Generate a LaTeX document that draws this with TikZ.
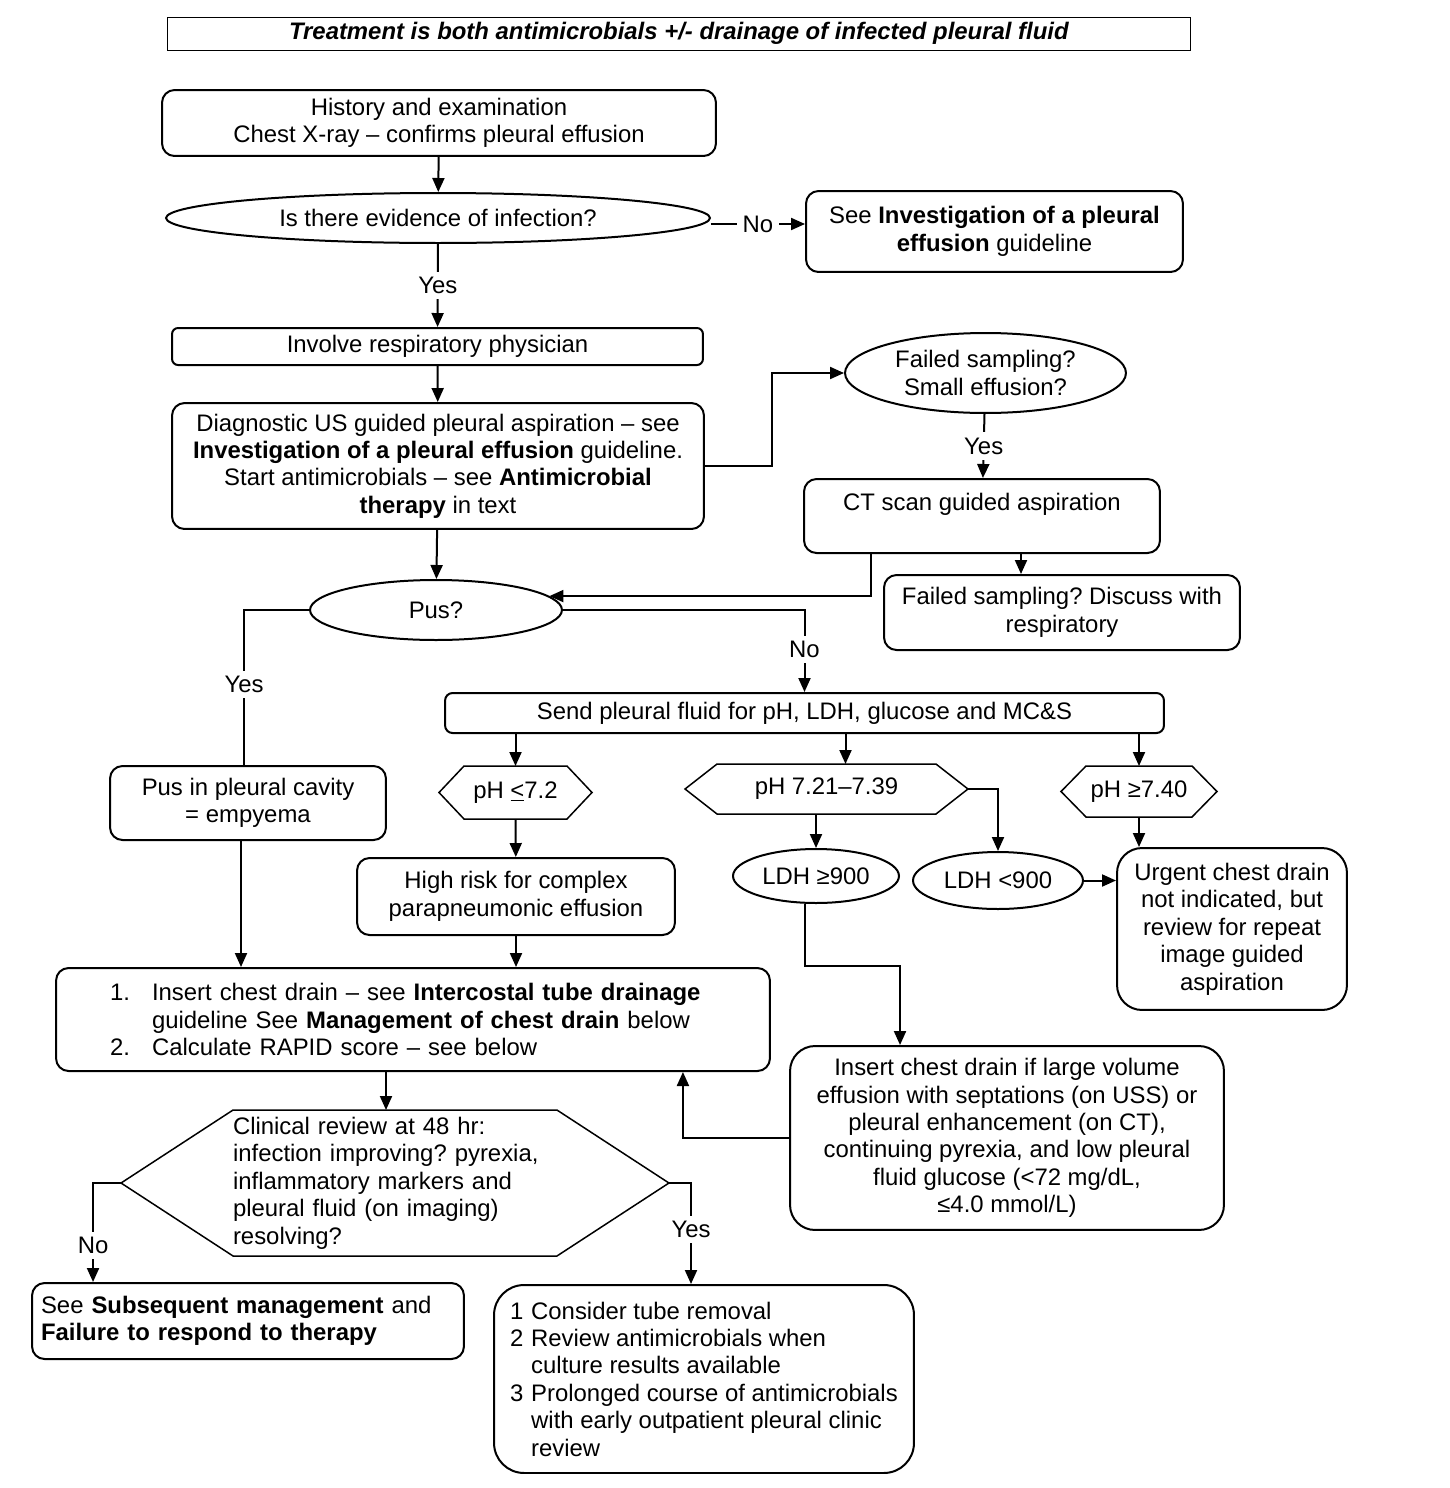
\documentclass[tikz,border=0pt]{standalone}
\usepackage{fontspec}
\setmainfont{Liberation Sans}
\usetikzlibrary{shapes.geometric, arrows.meta}
\frenchspacing

% outline of a pointed box round a plain node
\newcommand{\hexframe}[2]{%
  \draw[line width=0.03cm] (#1.west) -- ([xshift=#2]#1.north west) -- ([xshift=-#2]#1.north east)
    -- (#1.east) -- ([xshift=-#2]#1.south east) -- ([xshift=#2]#1.south west) -- cycle;}

\tikzset{
  box/.style={draw, rectangle, rounded corners=0.25cm, align=center, line width=0.04cm, inner sep=0pt},
  oval/.style={draw, ellipse, align=center, line width=0.04cm, inner sep=0pt},
  hexa/.style={rectangle, align=center, inner sep=0pt},
  lbl/.style={fill=white, inner sep=3pt},
}

\begin{document}
\begin{tikzpicture}[x=0.02cm, y=-0.02cm, font=\fontsize{13.6}{15.6}\selectfont,
    line width=0.04cm, >={Triangle[length=0.28cm, width=0.24cm]}]
    \useasboundingbox (0,0) rectangle (1450,1488);

    \node[draw, line width=0.02cm, minimum width=20.48cm, minimum height=0.66cm, inner sep=0pt] (title) at (679,33.5) {
        \textbf{\textit{Treatment is both antimicrobials +/- drainage of infected pleural fluid}}
    };

    \node[box, minimum width=11.08cm, minimum height=1.32cm] (hist) at (439,123) {
        History and examination\\
        Chest X-ray – confirms pleural effusion
    };
    \node[oval, minimum width=10.88cm, minimum height=1cm] (infect) at (438,218) {Is there evidence of infection?};
    \node[box, minimum width=7.54cm, minimum height=1.62cm] (seeinv) at (994.5,231.5) {
        See \textbf{Investigation of a pleural}\\
        \textbf{effusion} guideline
    };
    \node[box, rounded corners=0.12cm, minimum width=10.62cm, minimum height=0.74cm] (involve) at (437.5,346.5) {Involve respiratory physician};
    \node[box, minimum width=10.64cm, minimum height=2.52cm] (diag) at (438,466) {
        Diagnostic US guided pleural aspiration – see\\
        \textbf{Investigation of a pleural effusion} guideline.\\
        Start antimicrobials – see \textbf{Antimicrobial}\\
        \textbf{therapy} in text
    };

    \node[oval, minimum width=5.62cm, minimum height=1.6cm] (failed) at (985.5,373) {
        Failed sampling?\\
        Small effusion?
    };
    \node[box, minimum width=7.12cm, minimum height=1.48cm] (ctscan) at (982,516) {
        CT scan guided aspiration\\
        \mbox{}
    };
    \node[box, minimum width=7.12cm, minimum height=1.5cm] (discuss) at (1062,612.5) {
        Failed sampling? Discuss with\\
        respiratory
    };

    \node[oval, minimum width=5.04cm, minimum height=1.2cm] (pus) at (436,610) {Pus?};
    \node[box, minimum width=5.52cm, minimum height=1.48cm] (empyema) at (248,803) {
        Pus in pleural cavity\\
        = empyema
    };
    \node[box, rounded corners=0.15cm, minimum width=14.38cm, minimum height=0.8cm] (send) at (804.5,713) {Send pleural fluid for pH, LDH, glucose and MC\&S};

    \node[hexa, minimum width=3.02cm, minimum height=1.02cm] (phlow) at (515.5,792.5) {pH \underline{<}7.2};
    \node[hexa, minimum width=5.62cm, minimum height=0.96cm] (phmid) at (826.5,789) {pH 7.21–7.39};
    \node[hexa, minimum width=3.08cm, minimum height=0.98cm] (phhigh) at (1139,791.5) {pH ≥7.40};
    \hexframe{phlow}{0.5cm}
    \hexframe{phmid}{0.64cm}
    \hexframe{phhigh}{0.5cm}

    \node[box, minimum width=6.36cm, minimum height=1.54cm] (highrisk) at (516,896.5) {
        High risk for complex\\
        parapneumonic effusion
    };
    \node[oval, minimum width=3.32cm, minimum height=1.08cm] (ldhhi) at (816,876) {LDH ≥900};
    \node[oval, minimum width=3.4cm, minimum height=1.14cm] (ldhlo) at (998,880.5) {LDH <900};
    \node[box, rounded corners=0.5cm, minimum width=4.6cm, minimum height=3.24cm] (urgent) at (1232,929) {
        Urgent chest drain\\
        not indicated, but\\
        review for repeat\\
        image guided\\
        aspiration
    };

    \node[box, minimum width=14.28cm, minimum height=2.06cm, text width=12.12cm, align=left] (insert) at (413,1019.5) {
        \makebox[0.84cm][l]{1.}Insert chest drain – see \textbf{Intercostal tube drainage}\\
        \hspace*{0.84cm}guideline See \textbf{Management of chest drain} below\\
        \makebox[0.84cm][l]{2.}Calculate RAPID score – see below
    };
    \node[box, rounded corners=0.5cm, minimum width=8.68cm, minimum height=3.68cm] (insertif) at (1007,1138) {
        Insert chest drain if large volume\\
        effusion with septations (on USS) or\\
        pleural enhancement (on CT),\\
        continuing pyrexia, and low pleural\\
        fluid glucose (<72 mg/dL,\\
        ≤4.0 mmol/L)
    };

    \node[hexa, minimum width=10.92cm, minimum height=2.88cm, text width=6.48cm, align=left] (clin) at (395,1183) {
        Clinical review at 48 hr:\\
        infection improving? pyrexia,\\
        inflammatory markers and\\
        pleural fluid (on imaging)\\
        resolving?
    };
    \hexframe{clin}{2.24cm}

    \node[box, minimum width=8.64cm, minimum height=1.52cm, text width=8.28cm, align=left] (subseq) at (248,1321) {
        See \textbf{Subsequent management} and\\
        \textbf{Failure to respond to therapy}
    };
    \node[box, rounded corners=0.6cm, minimum width=8.4cm, minimum height=3.76cm, align=left] (consider) at (704,1379) {
        \makebox[0.42cm][l]{1}Consider tube removal\\
        \makebox[0.42cm][l]{2}Review antimicrobials when\\
        \hspace*{0.42cm}culture results available\\
        \makebox[0.42cm][l]{3}Prolonged course of antimicrobials\\
        \hspace*{0.42cm}with early outpatient pleural clinic\\
        \hspace*{0.42cm}review
    };

    % top part
    \draw[->] (hist) -- (infect);
    \draw[->] ([yshift=-0.12cm]infect.east) -- node[lbl]{No} ([yshift=-0.12cm]infect.east -| seeinv.west);
    \draw[->] (infect) -- node[lbl]{Yes} (involve);
    \draw[->] (involve) -- (diag);
    \draw[->] (diag.east) -- ++(67,0) |- (failed.west);
    \draw[->] (failed) -- node[lbl]{Yes} (ctscan);
    \draw[->] ([xshift=0.78cm]ctscan.south) -- ([xshift=0.78cm]ctscan.south |- discuss.north);
    \draw[->] ([xshift=-2.22cm]ctscan.south) |- (pus.7);
    \draw[->] (diag) -- (pus);

    % pus or not
    \draw[->] (pus.east) -| node[lbl, pos=0.74]{No} (send.north);
    \draw (pus.west) -| node[lbl, pos=0.74]{Yes} ([xshift=-0.08cm]empyema.north);
    \draw[->] ([xshift=-0.14cm]empyema.south) -- ([xshift=-0.14cm]empyema.south |- insert.north);
    \draw[->] (send.south -| phlow.north) -- (phlow.north);
    \draw[->] ([xshift=0.38cm]phmid.north |- send.south) -- ([xshift=0.38cm]phmid.north);
    \draw[->] (send.south -| phhigh.north) -- (phhigh.north);
    \draw[->] (phlow) -- (highrisk);
    \draw[->] (phmid.south -| ldhhi.north) -- (ldhhi.north);
    \draw[->] (phmid.east) -| (ldhlo.north);
    \draw[->] (ldhlo.east) -- (ldhlo.east -| urgent.west);
    \draw[->] (phhigh.south) -- (phhigh.south |- urgent.north);
    \draw[->] ([xshift=-0.22cm]ldhhi.south) -- ++(0,62) -| ([xshift=-2.14cm]insertif.north);
    \draw[->] (highrisk) -- (highrisk |- insert.north);
    \draw[->] (insertif.west) -| ([xshift=5.4cm]insert.south);

    % review
    \draw[->] ([xshift=-0.18cm]clin.north |- insert.south) -- ([xshift=-0.18cm]clin.north);
    \draw[->] (clin.west) -| node[lbl, pos=0.815]{No} ([xshift=-3.1cm]subseq.north);
    \draw[->] (clin.east) -| node[lbl, pos=0.73]{Yes} ([xshift=-0.26cm]consider.north);
\end{tikzpicture}
\end{document}
